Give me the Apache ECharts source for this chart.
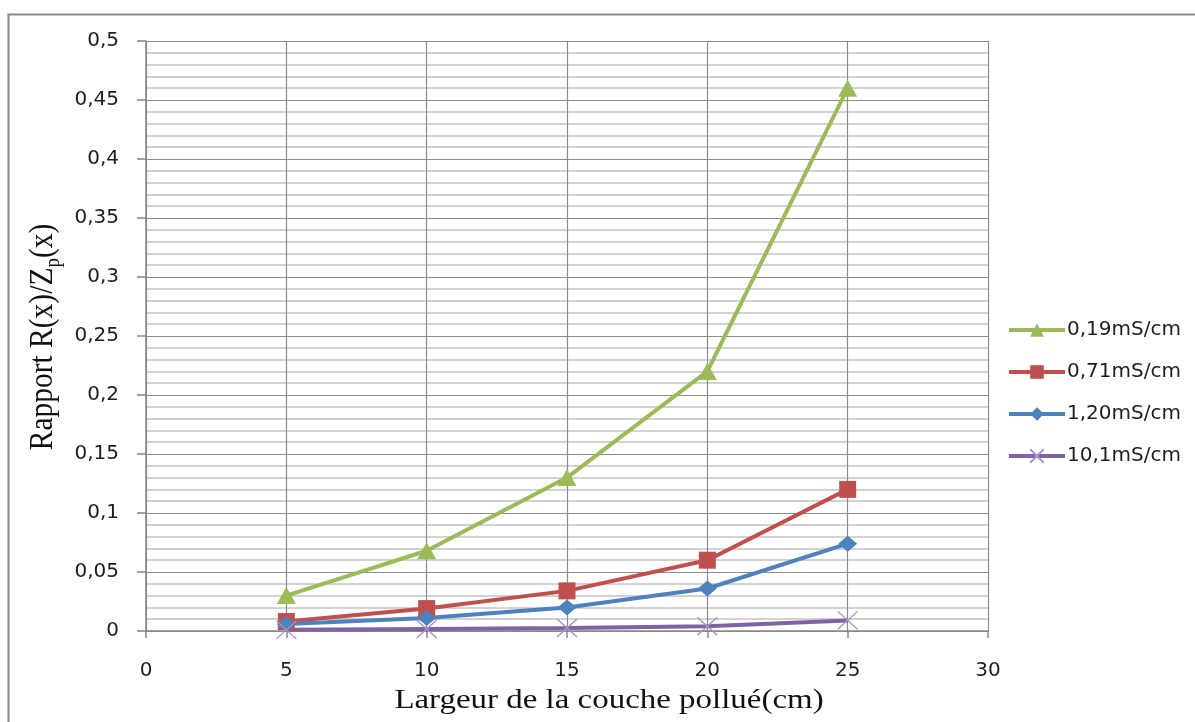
<!DOCTYPE html>
<html>
<head>
<meta charset="utf-8">
<script src="https://cdn.jsdelivr.net/npm/echarts@6/dist/echarts.min.js"></script>
<style>
  html, body { margin: 0; padding: 0; background: #ffffff; }
  #chart { width: 1195px; height: 722px; }
</style>
</head>
<body>
<div id="chart"></div>
<script>
// Largeur de la couche polluée (cm)
const widths = [5, 10, 15, 20, 25];

// Rapport R(x)/Zp(x) pour chaque conductivité
const seriesNames = ['0,19mS/cm', '0,71mS/cm', '1,20mS/cm', '10,1mS/cm'];
const ratio019 = [0.03, 0.068, 0.13, 0.22, 0.46];
const ratio071 = [0.008, 0.019, 0.034, 0.06, 0.12];
const ratio120 = [0.006, 0.011, 0.02, 0.036, 0.074];
const ratio101 = [0.001, 0.0017, 0.0025, 0.004, 0.009];

const xTicks = [0, 5, 10, 15, 20, 25, 30];
const yTicks = [0, 0.05, 0.1, 0.15, 0.2, 0.25, 0.3, 0.35, 0.4, 0.45, 0.5];

const fmt = v => String(v).replace('.', ',');
const pairs = vals => widths.map((w, i) => [w, vals[i]]);

const crossPath = 'path://M0,0L20,18M20,0L0,18';

const chart = echarts.init(document.getElementById('chart'));

function lineSeries(name, vals, color, symbol, size, extraItem) {
  return {
    name: name,
    type: 'line',
    data: pairs(vals),
    symbol: symbol,
    symbolSize: size,
    lineStyle: { color: color, width: 4 },
    itemStyle: Object.assign({ color: color }, extraItem || {}),
    emphasis: { disabled: true },
    animation: false
  };
}

chart.setOption({
  animation: false,
  grid: { left: 146, right: 207, top: 41, bottom: 91, containLabel: false },
  xAxis: {
    type: 'value',
    min: xTicks[0],
    max: xTicks[xTicks.length - 1],
    interval: 5,
    axisLine: { show: true, onZero: false, lineStyle: { color: '#868686', width: 1.5 } },
    axisTick: { show: true, length: 7, lineStyle: { color: '#868686', width: 1.5 } },
    axisLabel: {
      margin: 30,
      color: '#1e1e1e',
      fontFamily: 'DejaVu Sans',
      fontSize: 20,
      formatter: v => fmt(v)
    },
    splitLine: { show: true, lineStyle: { color: '#8c8c8c', width: 1.2 } }
  },
  yAxis: {
    type: 'value',
    min: yTicks[0],
    max: yTicks[yTicks.length - 1],
    interval: 0.05,
    axisLine: { show: true, lineStyle: { color: '#868686', width: 1.5 } },
    axisTick: { show: true, length: 9, lineStyle: { color: '#868686', width: 1.5 } },
    axisLabel: {
      margin: 27,
      color: '#1e1e1e',
      fontFamily: 'DejaVu Sans',
      fontSize: 20,
      formatter: v => fmt(+v.toFixed(2))
    },
    splitLine: { show: true, lineStyle: { color: '#8c8c8c', width: 1.2 } },
    minorTick: { show: false, splitNumber: 5 },
    minorSplitLine: { show: true, lineStyle: { color: '#c4c4c4', width: 1.5 } }
  },
  legend: {
    orient: 'vertical',
    left: 1002,
    top: 315,
    itemWidth: 56,
    itemHeight: 17,
    itemGap: 22,
    selectedMode: false,
    lineStyle: { width: 4 },
    textStyle: { fontFamily: 'DejaVu Sans', fontSize: 20, color: '#1e1e1e', padding: [0, 0, 0, -3] },
    data: seriesNames
  },
  series: [
    lineSeries(seriesNames[0], ratio019, '#9bbb59', 'triangle', [19, 17]),
    lineSeries(seriesNames[1], ratio071, '#c0504d', 'rect', 17),
    lineSeries(seriesNames[2], ratio120, '#4f81bd', 'diamond', [19, 16]),
    lineSeries(seriesNames[3], ratio101, '#8064a2', crossPath, [20, 18],
      { color: 'rgba(0,0,0,0)', borderColor: '#a792c9', borderWidth: 1.3 })
  ],
  graphic: [
    {
      type: 'rect',
      z: -10,
      silent: true,
      shape: { x: 8.5, y: 14.5, width: 1200, height: 720 },
      style: { fill: 'none', stroke: '#8a8a8a', lineWidth: 2.2 }
    },
    {
      type: 'text',
      x: 609,
      y: 701,
      scaleX: 1.22,
      silent: true,
      style: {
        text: 'Largeur de la couche pollué(cm)',
        font: '27px "Liberation Serif"',
        fill: '#111',
        textAlign: 'center',
        textVerticalAlign: 'middle'
      }
    },
    {
      type: 'text',
      x: 45,
      y: 337,
      rotation: Math.PI / 2,
      scaleY: 1.15,
      silent: true,
      style: {
        text: '{a|Rapport R(x)/Z}{s|p}{a|(x)}',
        fill: '#111',
        textAlign: 'center',
        textVerticalAlign: 'middle',
        rich: {
          a: { fontFamily: 'Liberation Serif', fontSize: 29.5, lineHeight: 34, verticalAlign: 'top', fill: '#111' },
          s: { fontFamily: 'Liberation Serif', fontSize: 19, lineHeight: 22, verticalAlign: 'bottom', fill: '#111' }
        }
      }
    }
  ]
});
</script>
</body>
</html>
